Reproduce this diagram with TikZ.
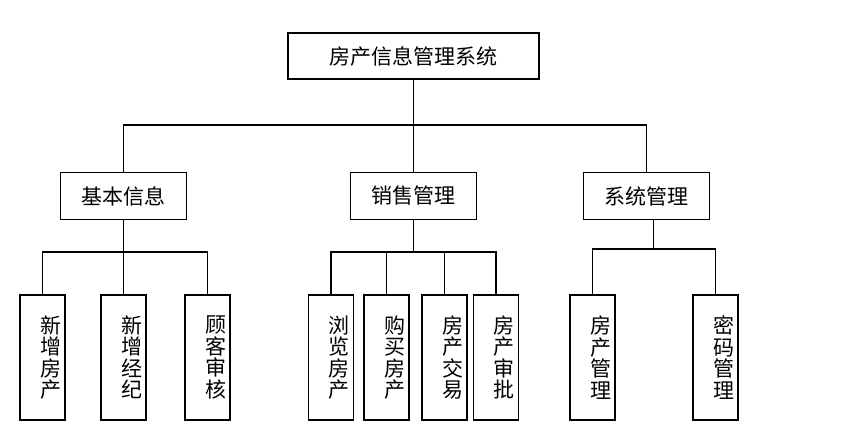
\documentclass[tikz,border=0pt]{standalone}
\usepackage{fontspec}
\newfontfamily\cjk{Noto Sans CJK SC}
\usepackage{tikz}
\tikzset{
  box/.style={draw, line width=1.5pt, font=\cjk\fontsize{21}{21.5}\selectfont, inner sep=0pt},
  midbox/.style={box, minimum width=126pt, minimum height=47pt},
  leaf/.style={box, minimum height=125pt, text width=37pt, inner xsep=4pt, align=right},
  conn/.style={line width=1.5pt}
}

\begin{document}
\begin{tikzpicture}[x=1pt,y=-1pt]
\useasboundingbox (0,0) rectangle (864,438);
\node[box, minimum width=251pt, minimum height=46pt] (root) at (413.5,56) {房产信息管理系统};
\node[midbox] (jbxx) at (123.5,196) {基本信息};
\node[midbox] (xsgl) at (413.5,196) {销售管理};
\node[midbox] (xtgl) at (646.5,196) {系统管理};
\foreach \x/\n/\t in {42.5/xzfc/{新\\增\\房\\产},123.5/xzjj/{新\\增\\经\\纪},207.5/gksh/{顾\\客\\审\\核},
  331/llfc/{浏\\览\\房\\产},386.5/gmfc/{购\\买\\房\\产},444.5/fcjy/{房\\产\\交\\易},496/fcsp/{房\\产\\审\\批},
  592.5/fcgl/{房\\产\\管\\理},715.5/mmgl/{密\\码\\管\\理}}
  \node[leaf] (\n) at (\x,357.5) {\t};
\coordinate (bus0) at (0,125);
\coordinate (bus1) at (0,252);
\coordinate (bus2) at (0,249);
\draw[conn] (root.south) -- (xsgl.north);
\draw[conn] (jbxx.north) |- (xtgl.north |- bus0) -- (xtgl.north);
\draw[conn] (jbxx.south) -- (xzjj.north);
\draw[conn] (xzfc.north) |- (gksh.north |- bus1) -- (gksh.north);
\draw[conn] (xsgl.south) -- (xsgl.south |- bus1);
\draw[conn] (llfc.north) |- (fcsp.north |- bus1) -- (fcsp.north);
\foreach \n in {gmfc,fcjy}
  \draw[conn] (\n.north) -- (\n.north |- bus1);
\draw[conn] ([xshift=7pt]xtgl.south) -- ++(0,30);
\draw[conn] (fcgl.north) |- (mmgl.north |- bus2) -- (mmgl.north);
\end{tikzpicture}
\end{document}
